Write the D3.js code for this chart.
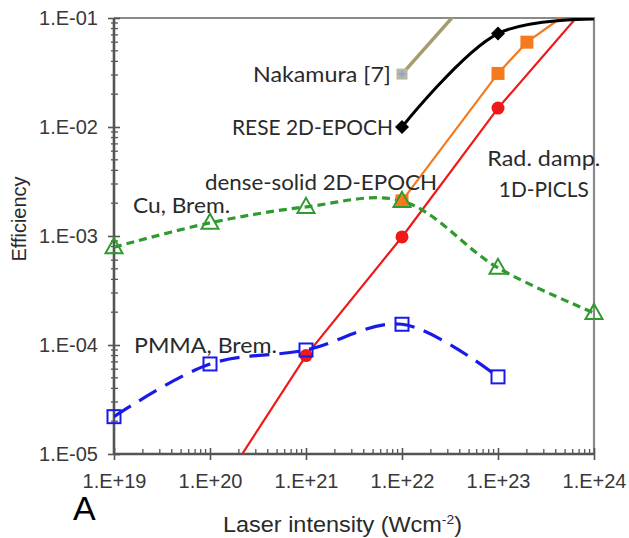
<!DOCTYPE html>
<html><head><meta charset="utf-8">
<script src="https://cdn.jsdelivr.net/npm/d3@7"></script>
<style>body{margin:0;background:#fff}svg{display:block}</style>
</head><body>
<svg id="c" width="629" height="538"></svg>
<script>
// ---- data ----
const xTickValues = [1e19, 1e20, 1e21, 1e22, 1e23, 1e24];
const xTickLabels = ["1.E+19", "1.E+20", "1.E+21", "1.E+22", "1.E+23", "1.E+24"];
const yTickValues = [1e-5, 1e-4, 1e-3, 1e-2, 1e-1];
const yTickLabels = ["1.E-05", "1.E-04", "1.E-03", "1.E-02", "1.E-01"];

const nakamuraX = [1e22, 1e23];
const nakamuraY = [0.0306, 0.3];
const reseX = [1e22, 1e23, 1e24];
const reseY = [0.01, 0.072, 0.098];
const denseX = [1e22, 1e23, 2e23, 4.5e23];
const denseY = [0.0021, 0.031, 0.060, 0.1];
const radX = [1e20, 1e21, 1e22, 1e23, 6.5e23];
const radY = [3.5e-6, 8e-5, 9.8e-4, 0.0149, 0.1];
const cuX = [1e19, 1e20, 1e21, 1e22, 1e23, 1e24];
const cuY = [7.9e-4, 1.32e-3, 1.85e-3, 2.1e-3, 5.1e-4, 1.97e-4];
const pmmaX = [1e19, 1e20, 1e21, 1e22, 1e23];
const pmmaY = [2.2e-5, 6.7e-5, 9e-5, 1.55e-4, 5.1e-5];

const labels = [
  {t: "Nakamura [7]", x: 1e22, y: 0.0306},
  {t: "RESE 2D-EPOCH", x: 1e22, y: 0.01},
  {t: "dense-solid 2D-EPOCH", x: 1e22, y: 0.0031},
  {t: "Cu, Brem.", x: 1e19, y: 1.9e-3},
  {t: "PMMA, Brem.", x: 1e19, y: 1.0e-4},
  {t: "Rad. damp.", x: 3e23, y: 0.0052},
  {t: "1D-PICLS", x: 3e23, y: 0.0027}
];

// ---- chart ----
const svg = d3.select("#c");
const x = d3.scaleLog().domain([1e19, 1e24]).range([114, 594]);
const y = d3.scaleLog().domain([1e-5, 1e-1]).range([454, 18]);
const zip = (a, b) => a.map((v, i) => [v, b[i]]);

svg.append("defs").append("clipPath").attr("id", "clip")
  .append("rect").attr("x", 114).attr("y", 18).attr("width", 480).attr("height", 436);

// frame top/right
svg.append("path").attr("d", `M114,18H${x(1e24)}V${y(1e-5)}`)
  .attr("fill", "none").attr("stroke", "#8a8a8a").attr("stroke-width", 2.2);

// minor ticks
const minorX = [], minorY = [];
for (let d = 19; d < 24; d++) for (let m = 2; m < 10; m++) minorX.push(m * Math.pow(10, d));
for (let d = -5; d < -1; d++) for (let m = 2; m < 10; m++) minorY.push(m * Math.pow(10, d));
const axisCol = "#555";
svg.append("g").selectAll("line").data(minorX).join("line")
  .attr("x1", d => x(d)).attr("x2", d => x(d)).attr("y1", 454).attr("y2", 449)
  .attr("stroke", axisCol).attr("stroke-width", 1.3);
svg.append("g").selectAll("line").data(minorY).join("line")
  .attr("x1", 111).attr("x2", 118).attr("y1", d => y(d)).attr("y2", d => y(d))
  .attr("stroke", axisCol).attr("stroke-width", 1.3);

const fmtX = d => xTickLabels[xTickValues.indexOf(d)];
const fmtY = d => yTickLabels[yTickValues.indexOf(d)];
const gx = svg.append("g").attr("transform", "translate(0,454)")
  .call(d3.axisBottom(x).tickValues(xTickValues).tickFormat(fmtX).tickSize(6).tickPadding(14));
const gy = svg.append("g").attr("transform", "translate(114,0)")
  .call(d3.axisLeft(y).tickValues(yTickValues).tickFormat(fmtY).tickSize(6).tickPadding(10));
[gx, gy].forEach(g => {
  g.select(".domain").attr("stroke", axisCol).attr("stroke-width", 2.6);
  g.selectAll(".tick line").attr("stroke", axisCol).attr("stroke-width", 1.6);
  g.selectAll(".tick text").attr("fill", "#383838")
    .style("font-family", "'Liberation Sans', Arial, sans-serif").style("font-size", "20px");
});
gx.select(".domain").attr("d", "M114,0H594");
gy.select(".domain").attr("d", "M0,454V18");
gx.selectAll(".tick line").attr("y1", -6).attr("y2", 6);
gy.selectAll(".tick line").attr("x1", 6).attr("x2", -6);

const plot = svg.append("g").attr("clip-path", "url(#clip)");
const lin = () => d3.line().x(d => x(d[0])).y(d => y(d[1]));

// Nakamura
plot.append("path").datum(zip(nakamuraX, nakamuraY)).attr("d", lin())
  .attr("fill", "none").attr("stroke", "#a39d6e").attr("stroke-width", 3.5);
// red
plot.append("path").datum(zip(radX, radY)).attr("d", lin())
  .attr("fill", "none").attr("stroke", "#f01818").attr("stroke-width", 2.2);
// orange
plot.append("path").datum(zip(denseX, denseY)).attr("d", lin())
  .attr("fill", "none").attr("stroke", "#f57a1e").attr("stroke-width", 2.2);
// black
plot.append("path").datum(zip(reseX, reseY))
  .attr("d", lin().curve(d3.curveCatmullRom.alpha(0.5)))
  .attr("fill", "none").attr("stroke", "#000").attr("stroke-width", 3);
// Cu
plot.append("path").datum(zip(cuX, cuY))
  .attr("d", lin().curve(d3.curveCatmullRom.alpha(0.5)))
  .attr("fill", "none").attr("stroke", "#2f9a2f").attr("stroke-width", 3.2).attr("stroke-dasharray", "8,5");
// PMMA
plot.append("path").datum(zip(pmmaX, pmmaY))
  .attr("d", lin().curve(d3.curveCatmullRom.alpha(0.5)))
  .attr("fill", "none").attr("stroke", "#1a1ae8").attr("stroke-width", 3.2).attr("stroke-dasharray", "20,10");

// markers
const mk = svg.append("g");
mk.selectAll(".rc").data(zip(radX, radY).filter(d => d[0] >= 1e21 && d[0] <= 1e23)).join("circle")
  .attr("cx", d => x(d[0])).attr("cy", d => y(d[1])).attr("r", 6.5).attr("fill", "#f01818");
mk.selectAll(".os").data(zip(denseX, denseY).slice(0, 3)).join("rect")
  .attr("x", d => x(d[0]) - 6.5).attr("y", d => y(d[1]) - 6.5).attr("width", 13).attr("height", 13)
  .attr("fill", "#f57a1e");
mk.selectAll(".bd").data(zip(reseX, reseY).slice(0, 2)).join("path")
  .attr("d", d => { const cx = x(d[0]), cy = y(d[1]); return `M${cx},${cy-7}L${cx+7},${cy}L${cx},${cy+7}L${cx-7},${cy}Z`; })
  .attr("fill", "#000");
mk.selectAll(".nk").data(zip(nakamuraX, nakamuraY).slice(0, 1)).join("g").each(function(d) {
  const cx = x(d[0]), cy = y(d[1]);
  const g = d3.select(this);
  g.append("rect").attr("x", cx - 5.5).attr("y", cy - 5.5).attr("width", 11).attr("height", 11).attr("fill", "#b8b6a6");
  g.append("path").attr("d", `M${cx-3.5},${cy}H${cx+3.5}M${cx},${cy-3.5}V${cy+3.5}`).attr("stroke", "#8ea0c8").attr("stroke-width", 1.5);
});
mk.selectAll(".gt").data(zip(cuX, cuY)).join("path")
  .attr("d", d => { const cx = x(d[0]), cy = y(d[1]); return `M${cx},${cy-9}L${cx+8.5},${cy+6}L${cx-8.5},${cy+6}Z`; })
  .attr("fill", "none").attr("stroke", "#2f9a2f").attr("stroke-width", 2);
mk.selectAll(".bs").data(zip(pmmaX, pmmaY)).join("rect")
  .attr("x", d => x(d[0]) - 6.5).attr("y", d => y(d[1]) - 6.5).attr("width", 13).attr("height", 13)
  .attr("fill", "none").attr("stroke", "#1a1ae8").attr("stroke-width", 2);

// annotation labels
const lab = svg.append("g").style("font-family", "Lato, 'Open Sans', sans-serif").style("font-size", "22px").attr("fill", "#2a2a2a");
const pos = [
  {dx: -11, anchor: "end", w: 138},
  {dx: -9, anchor: "end", w: 161},
  {dx: 35, anchor: "end", w: 232},
  {dx: 19, anchor: "start", w: 97},
  {dx: 20, anchor: "start", w: 143},
  {dx: 0, anchor: "middle", w: 113},
  {dx: 0, anchor: "middle", w: 90}
];
labels.forEach((l, i) => {
  const p = pos[i];
  let tx = x(l.x) + p.dx;
  if (p.anchor === "end") tx -= p.w;
  else if (p.anchor === "middle") tx -= p.w / 2;
  lab.append("text").attr("x", tx).attr("y", y(l.y)).attr("dy", "0.35em")
    .attr("textLength", p.w).attr("lengthAdjust", "spacingAndGlyphs").text(l.t);
});

// axis titles
const xt = svg.append("text").attr("x", 223).attr("y", 532)
  .style("font-family", "'Liberation Sans', Arial, sans-serif").style("font-size", "22px").attr("fill", "#2a2a2a")
  .attr("textLength", 239).attr("lengthAdjust", "spacingAndGlyphs");
xt.append("tspan").text("Laser intensity  (Wcm");
xt.append("tspan").attr("dy", -8).style("font-size", "13px").text("-2");
xt.append("tspan").attr("dy", 8).text(")");
svg.append("text").attr("transform", "translate(26,219) rotate(-90)").attr("text-anchor", "middle")
  .style("font-family", "'Liberation Sans', Arial, sans-serif").style("font-size", "20px").attr("fill", "#2a2a2a")
  .text("Efficiency");
svg.append("text").attr("x", 73).attr("y", 520)
  .style("font-family", "'Liberation Sans', Arial, sans-serif").style("font-size", "34px").attr("fill", "#000").text("A");
</script>
</body></html>
